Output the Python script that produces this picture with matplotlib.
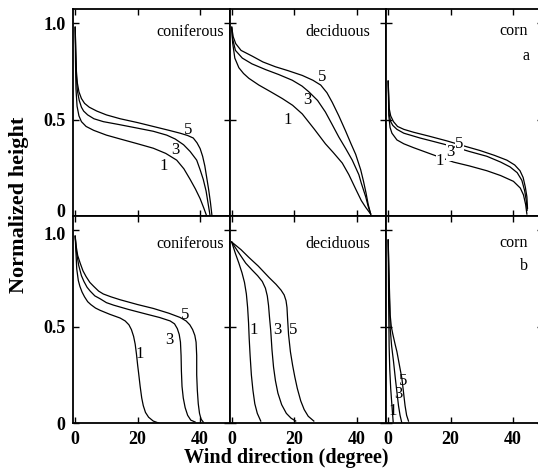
import numpy as np
import matplotlib
matplotlib.use("Agg")
import matplotlib.pyplot as plt
from matplotlib.transforms import ScaledTranslation

plt.rcParams['font.family'] = ['Liberation Serif', 'DejaVu Serif']

# ---------------- data (wind direction deg, normalized height) ----------------
# Row a
a_conif_1 = [(0, 0.98), (0.1, 0.8), (0.25, 0.66), (0.6, 0.57), (1.2, 0.52), (2, 0.49), (3.5, 0.465),
             (5.9, 0.445), (10, 0.42), (14.4, 0.40), (20, 0.375), (25, 0.352), (29, 0.325), (32.5, 0.29),
             (34.8, 0.245), (36.8, 0.19), (38.5, 0.14), (40, 0.09), (41.2, 0.04), (42.1, 0.0)]
a_conif_3 = [(0, 0.98), (0.2, 0.83), (0.4, 0.72), (0.7, 0.65), (1.3, 0.6), (2, 0.565), (2.7, 0.545),
             (4, 0.525), (6, 0.505), (9, 0.49), (14, 0.475), (19.7, 0.457), (25, 0.44), (29.3, 0.42),
             (32, 0.40), (34.7, 0.37), (36.8, 0.335), (38.9, 0.29), (40, 0.24), (41, 0.19), (41.9, 0.13),
             (42.6, 0.06), (43.2, 0.0)]
a_conif_5 = [(0, 0.98), (0.2, 0.85), (0.4, 0.75), (0.7, 0.69), (1.2, 0.645), (2, 0.61), (3, 0.585),
             (4.5, 0.565), (6.9, 0.545), (10, 0.525), (14.4, 0.505), (20, 0.485), (25, 0.465), (30, 0.445),
             (33.6, 0.43), (36, 0.418), (37.8, 0.405), (39, 0.38), (40, 0.35), (40.8, 0.31), (41.5, 0.26),
             (42.1, 0.20), (42.7, 0.14), (43.3, 0.07), (43.8, 0.0)]

a_decid_1 = [(0, 0.98), (0.3, 0.9), (1, 0.82), (2.3, 0.77), (3.8, 0.74), (5.5, 0.715), (8.7, 0.68),
             (12.5, 0.645), (16.2, 0.61), (19.5, 0.575), (22.6, 0.53), (26.5, 0.45), (30, 0.375),
             (32.5, 0.33), (35.4, 0.275), (37.5, 0.215), (39.7, 0.14), (41.5, 0.08), (42.9, 0.045),
             (44.5, 0.01)]
a_decid_3 = [(0, 0.98), (0.3, 0.92), (1.2, 0.86), (3.4, 0.82), (6.5, 0.79), (10.9, 0.76), (15, 0.735),
             (19.4, 0.705), (22.5, 0.675), (24.7, 0.645), (27.5, 0.6), (30, 0.54), (32, 0.48),
             (34.3, 0.41), (36.5, 0.35), (38.6, 0.29), (40.7, 0.215), (41.5, 0.17), (42.9, 0.10),
             (43.7, 0.05), (44.5, 0.01)]
a_decid_5 = [(0, 0.98), (0.5, 0.93), (1.3, 0.895), (3, 0.86), (6.6, 0.83), (10, 0.80), (14, 0.775),
             (18, 0.755), (22.6, 0.73), (26, 0.705), (28.5, 0.68), (30.5, 0.64), (32.2, 0.59),
             (34.3, 0.52), (36.5, 0.44), (38.2, 0.375), (39.7, 0.32), (40.7, 0.27), (41.3, 0.24),
             (42.2, 0.18), (43, 0.12), (43.7, 0.06), (44.5, 0.01)]

a_corn_1 = [(0, 0.7), (0.2, 0.52), (0.6, 0.46), (1.2, 0.43), (2.8, 0.395), (5, 0.375), (8.1, 0.355),
            (14, 0.32), (20.9, 0.28), (26, 0.26), (31.6, 0.235), (36, 0.21), (40.1, 0.18), (42.3, 0.145),
            (43.3, 0.11), (44, 0.06), (44.4, 0.01)]
a_corn_3 = [(0, 0.7), (0.3, 0.53), (0.8, 0.49), (1.5, 0.47), (2.8, 0.45), (5, 0.43), (10.2, 0.405),
            (15, 0.385), (20.9, 0.36), (26, 0.335), (31.6, 0.31), (36, 0.28), (39, 0.255), (41.3, 0.225),
            (42.8, 0.185), (43.7, 0.13), (44.2, 0.08), (44.5, 0.03)]
a_corn_5 = [(0, 0.7), (0.3, 0.56), (0.8, 0.52), (1.7, 0.49), (3, 0.465), (5, 0.45), (8.1, 0.435),
            (13, 0.415), (18.8, 0.39), (24, 0.365), (29.4, 0.34), (34, 0.315), (38, 0.29), (40.5, 0.265),
            (42.2, 0.235), (43.2, 0.2), (43.9, 0.15), (44.4, 0.1), (44.6, 0.04)]

# Row b
b_conif_1 = [(0, 0.97), (0.2, 0.9), (0.5, 0.8), (1, 0.74), (1.5, 0.71), (2.2, 0.68), (3, 0.655),
             (4, 0.63), (5, 0.615), (6.5, 0.597), (8, 0.585), (11, 0.565), (14.4, 0.545), (16, 0.53),
             (17.2, 0.51), (18, 0.485), (18.7, 0.45), (19.2, 0.41), (19.6, 0.36), (20, 0.3), (20.3, 0.26),
             (20.8, 0.19), (21.3, 0.13), (21.8, 0.09), (22.5, 0.055), (23.5, 0.03), (25, 0.01), (26.7, 0.0)]
b_conif_3 = [(0, 0.97), (0.4, 0.89), (1.1, 0.82), (2, 0.765), (2.8, 0.735), (3.8, 0.705), (4.8, 0.685),
             (6.3, 0.66), (8, 0.645), (10, 0.625), (12.3, 0.612), (17, 0.59), (22.9, 0.565), (27, 0.548),
             (30.4, 0.53), (31.8, 0.515), (32.7, 0.49), (33.3, 0.46), (33.7, 0.42), (33.9, 0.35),
             (34.0, 0.27), (34.2, 0.19), (34.6, 0.13), (35.2, 0.08), (36, 0.04), (37, 0.015), (38.4, 0.005)]
b_conif_5 = [(0, 0.97), (0.3, 0.92), (0.8, 0.87), (1.6, 0.83), (2.5, 0.79), (3.5, 0.76), (4.7, 0.73),
             (5.9, 0.71), (7.5, 0.685), (9, 0.67), (11.5, 0.655), (14.4, 0.64), (20, 0.615), (25, 0.595),
             (30, 0.57), (33.6, 0.548), (35.5, 0.53), (36.7, 0.51), (37.6, 0.485), (38.3, 0.455),
             (38.7, 0.42), (38.9, 0.35), (38.9, 0.25), (39.1, 0.17), (39.4, 0.1), (39.8, 0.05),
             (40.3, 0.02), (41, 0.005)]

b_decid_1 = [(0, 0.94), (1.2, 0.88), (2.3, 0.83), (3.3, 0.78), (4.1, 0.73), (4.7, 0.67), (5.1, 0.6),
             (5.4, 0.52), (5.6, 0.44), (5.9, 0.35), (6.3, 0.25), (6.8, 0.17), (7.4, 0.1), (8.2, 0.05),
             (9.3, 0.01)]
b_decid_3 = [(0, 0.94), (2, 0.89), (4.5, 0.83), (6.5, 0.795), (8.3, 0.765), (9.8, 0.735), (10.8, 0.7),
             (11.4, 0.66), (11.8, 0.61), (12.1, 0.55), (12.5, 0.48), (12.9, 0.38), (13.4, 0.29), (14, 0.22),
             (14.8, 0.155), (16, 0.095), (17.5, 0.05), (19, 0.025), (20.5, 0.01)]
b_decid_5 = [(0, 0.94), (3, 0.90), (5.5, 0.86), (8.5, 0.815), (12, 0.755), (14.2, 0.72), (15.8, 0.69),
             (16.8, 0.665), (17.4, 0.635), (17.7, 0.6), (17.9, 0.54), (18.2, 0.46), (18.8, 0.37),
             (19.5, 0.3), (20.2, 0.24), (21, 0.18), (22.1, 0.115), (23.2, 0.07), (24.5, 0.035), (26.3, 0.01)]

b_corn_1 = [(0, 0.95), (0.15, 0.62), (0.3, 0.4), (0.5, 0.28), (0.8, 0.18), (1.2, 0.09), (1.6, 0.005)]
b_corn_3 = [(0, 0.95), (0.3, 0.70), (0.64, 0.49), (1.1, 0.4), (1.7, 0.32), (2.3, 0.23), (2.8, 0.16),
            (3.3, 0.09), (3.8, 0.04), (4.3, 0.005)]
b_corn_5 = [(0, 0.95), (0.3, 0.75), (0.64, 0.56), (1.0, 0.5), (1.5, 0.46), (2.2, 0.41), (2.8, 0.37),
            (3.6, 0.3), (4.4, 0.23), (4.9, 0.16), (5.4, 0.09), (5.9, 0.04), (6.5, 0.01)]

panel_names = ["coniferous", "deciduous", "corn"]
row_tags = ["a", "b"]
curve_ids = ["1", "3", "5"]

curves = {
    (0, 0): [a_conif_1, a_conif_3, a_conif_5],
    (0, 1): [a_decid_1, a_decid_3, a_decid_5],
    (0, 2): [a_corn_1, a_corn_3, a_corn_5],
    (1, 0): [b_conif_1, b_conif_3, b_conif_5],
    (1, 1): [b_decid_1, b_decid_3, b_decid_5],
    (1, 2): [b_corn_1, b_corn_3, b_corn_5],
}

# label positions (x, y) for curves 1, 3, 5
label_pos = {
    (0, 0): [(28.3, 0.26), (32.0, 0.345), (36.3, 0.445)],
    (0, 1): [(17.8, 0.50), (24.2, 0.60), (29.0, 0.72)],
    (0, 2): [(16.6, 0.285), (19.8, 0.33), (22.7, 0.375)],
    (1, 0): [(20.8, 0.36), (30.2, 0.43), (35.2, 0.56)],
    (1, 1): [(7.1, 0.485), (14.6, 0.485), (19.6, 0.485)],
    (1, 2): [(1.5, 0.06), (3.3, 0.15), (4.9, 0.22)],
}

title_pos = {
    (0, 0): (47.7, 0.955), (0, 1): (44.5, 0.955), (0, 2): (44.6, 0.962),
    (1, 0): (47.7, 0.93), (1, 1): (44.5, 0.93), (1, 2): (44.6, 0.935),
}
tag_pos = {0: (44.0, 0.83), 1: (43.6, 0.815)}

xticks = [0, 20, 40]
yticks = [0, 0.5, 1.0]
ytick_labels = ["0", "0.5", "1.0"]

# ---------------- figure ----------------
W, H = 538, 474
fig = plt.figure(figsize=(W / 100, H / 100), dpi=100)

left0 = 73 / W
cw = 156.5 / W
rh = 207 / H
row_bottoms = [1 - 216 / H, 1 - 423 / H]

for r in range(2):
    for c in range(3):
        ax = fig.add_axes([left0 + c * cw, row_bottoms[r], cw, rh])
        ax.set_xlim(-0.7, 49.4)
        ax.set_ylim(0, 1.075)
        for s in ax.spines.values():
            s.set_linewidth(1.3)
        ax.set_xticks(xticks)
        ax.set_yticks(yticks)
        ax.tick_params(direction='in', length=4, width=1, top=True, right=True,
                       labelsize=13, pad=5.5)
        if r == 1:
            ax.set_xticklabels([str(t) for t in xticks], fontweight='bold')
        else:
            ax.set_xticklabels([])
        if c == 0:
            ax.set_yticklabels(ytick_labels, fontweight='bold')
            labs = ax.get_yticklabels()
            if r == 0:
                # nudge the "0" of the upper row up a little
                labs[0].set_transform(labs[0].get_transform() +
                                      ScaledTranslation(0, 4 / 72, fig.dpi_scale_trans))
            else:
                # nudge the "1.0" of the lower row down a little
                labs[2].set_transform(labs[2].get_transform() +
                                      ScaledTranslation(0, -2 / 72, fig.dpi_scale_trans))
        else:
            ax.set_yticklabels([])

        for cv in curves[(r, c)]:
            arr = np.array(cv)
            ax.plot(arr[:, 0], arr[:, 1], color='black', lw=0.9, zorder=2)

        for lab, (lx, ly) in zip(curve_ids, label_pos[(r, c)]):
            kw = {}
            if (r, c) == (0, 2):
                kw['bbox'] = dict(facecolor='white', edgecolor='none', pad=0.3)
            ax.text(lx, ly, lab, fontsize=12, ha='center', va='center', zorder=3, **kw)

        tx, ty = title_pos[(r, c)]
        ax.text(tx, ty, panel_names[c], fontsize=11.5, ha='right', va='center')
        if c == 2:
            gx, gy = tag_pos[r]
            ax.text(gx, gy, row_tags[r], fontsize=11.5, ha='center', va='center')

fig.text(286 / W, 1 - 458 / H, "Wind direction (degree)", fontsize=14.5, fontweight='bold',
         ha='center', va='center')
fig.text(19 / W, 1 - 205 / H, "Normalized height", fontsize=16, fontweight='bold',
         ha='center', va='center', rotation=90)

fig.savefig("out.png", dpi=100)
